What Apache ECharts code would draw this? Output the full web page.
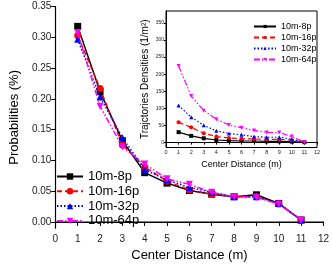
<!DOCTYPE html>
<html>
<head>
<meta charset="utf-8">
<script src="https://cdn.jsdelivr.net/npm/echarts@6/dist/echarts.min.js"></script>
<style>html,body{margin:0;padding:0;background:#fff}#c{width:332px;height:268px}</style>
</head>
<body>
<div id="c"></div>
<script>
const distances = [1, 2, 3, 4, 5, 6, 7, 8, 9, 10, 11];
const seriesNames = ['10m-8p', '10m-16p', '10m-32p', '10m-64p'];
// main chart: probabilities
const prob8p  = [0.318, 0.212, 0.132, 0.080, 0.063, 0.051, 0.045, 0.041, 0.044, 0.030, 0.003];
const prob16p = [0.303, 0.217, 0.125, 0.089, 0.066, 0.052, 0.045, 0.041, 0.041, 0.029, 0.003];
const prob32p = [0.297, 0.203, 0.137, 0.085, 0.068, 0.056, 0.048, 0.041, 0.041, 0.030, 0.003];
const prob64p = [0.308, 0.188, 0.122, 0.094, 0.070, 0.061, 0.048, 0.041, 0.040, 0.029, 0.003];
// inset: trajectory densities
const dens8p  = [30, 19, 12, 7, 5, 4, 4, 3, 3, 2, 0.5];
const dens16p = [59, 44, 27, 17, 13, 11, 10, 9, 9, 6, 1];
const dens32p = [108, 74, 50, 34, 26, 22, 17, 15, 15, 9, 1];
const dens64p = [224, 136, 93, 68, 51, 43, 35, 29, 29, 17, 1];
const probTicks = [0, 0.05, 0.10, 0.15, 0.20, 0.25, 0.30, 0.35];
const densTicks = [0, 50, 100, 150, 200, 250, 300, 350];

const colors = ['#000000', '#ff0000', '#0000ff', '#ff00ff'];
const symbols = ['rect', 'circle', 'triangle', 'path://M0,0 L10,0 L5,9 Z'];
const dashes = ['solid', [5, 3], [1.5, 2], [6, 2, 1.5, 2, 1.5, 2]];
const mainData = [prob8p, prob16p, prob32p, prob64p];
const insetData = [dens8p, dens16p, dens32p, dens64p];

const font = 'Liberation Sans, Arial, sans-serif';
const axisCol = '#555';

function pairs(vals) { return distances.map((d, i) => [d, vals[i]]); }

const series = [];
seriesNames.forEach((n, i) => {
  series.push({
    name: n, type: 'line', xAxisIndex: 0, yAxisIndex: 0,
    data: pairs(mainData[i]), symbol: symbols[i], symbolSize: 7,
    color: colors[i], lineStyle: {color: colors[i], width: 1.5, type: dashes[i]},
    itemStyle: {color: colors[i]}, z: 3 + i
  });
});
seriesNames.forEach((n, i) => {
  series.push({
    name: n, type: 'line', xAxisIndex: 2, yAxisIndex: 2,
    data: pairs(insetData[i]), symbol: symbols[i], symbolSize: 4,
    color: colors[i], lineStyle: {color: colors[i], width: 1.2, type: dashes[i]},
    itemStyle: {color: colors[i]}, z: 20 + i
  });
});

const chart = echarts.init(document.getElementById('c'));
chart.setOption({
  animation: false,
  backgroundColor: '#fff',
  textStyle: {fontFamily: font},
  grid: [
    {left: 51, right: 7, top: 6.7, bottom: 40, show: false},
    {left: 166, right: 15, top: 11, bottom: 120.5, show: true, backgroundColor: '#fff', borderColor: '#000', borderWidth: 1, z: 10}
  ],
  legend: [
    {
      data: seriesNames, orient: 'vertical', left: 56, top: 170, itemWidth: 26, itemHeight: 8, itemGap: 1.8,
      textStyle: {fontSize: 13, color: '#000', fontFamily: font, lineHeight: 13}, padding: 0
    },
    {
      data: seriesNames, orient: 'vertical', left: 253, top: 22, itemWidth: 22, itemHeight: 4, itemGap: 2,
      textStyle: {fontSize: 9, color: '#000', fontFamily: font, lineHeight: 9}, padding: 0, z: 30
    }
  ],
  xAxis: [
    {
      gridIndex: 0, type: 'value', min: 0, max: 12, interval: 1, position: 'bottom',
      name: 'Center Distance (m)', nameLocation: 'middle', nameGap: 17,
      nameTextStyle: {fontSize: 13, color: '#000', fontFamily: font},
      axisLine: {lineStyle: {color: axisCol, width: 1.5}},
      axisTick: {inside: false, length: 4, lineStyle: {color: '#000'}},
      axisLabel: {fontSize: 10, color: '#222', margin: 6},
      splitLine: {show: false}
    },
    {
      gridIndex: 0, type: 'value', min: 0, max: 12, interval: 1, position: 'top',
      axisLine: {lineStyle: {color: '#000', width: 1}},
      axisTick: {inside: true, length: 4, lineStyle: {color: '#000'}},
      axisLabel: {show: false}, splitLine: {show: false}
    },
    {
      gridIndex: 1, type: 'value', min: 0, max: 12, interval: 1, position: 'bottom',
      name: 'Center Distance (m)', nameLocation: 'middle', nameGap: 11,
      nameTextStyle: {fontSize: 9, color: '#000', fontFamily: font},
      axisLine: {lineStyle: {color: '#000', width: 1}},
      axisTick: {inside: false, length: 2, lineStyle: {color: '#000'}},
      axisLabel: {fontSize: 5.5, color: '#222', margin: 2},
      splitLine: {show: false}, z: 12
    },
    {
      gridIndex: 1, type: 'value', min: 0, max: 12, interval: 1, position: 'top',
      axisLine: {lineStyle: {color: '#000', width: 1}},
      axisTick: {inside: true, length: 2, lineStyle: {color: '#000'}},
      axisLabel: {show: false}, splitLine: {show: false}, z: 12
    }
  ],
  yAxis: [
    {
      gridIndex: 0, type: 'value', min: -0.01, max: 0.35, position: 'left',
      name: 'Probabilities (%)', nameLocation: 'middle', nameGap: 31,
      nameTextStyle: {fontSize: 13, color: '#000', fontFamily: font},
      axisLine: {show: true, lineStyle: {color: '#000', width: 1.2}},
      axisTick: {show: true, inside: false, length: 4, customValues: probTicks, lineStyle: {color: '#000'}},
      axisLabel: {fontSize: 10, color: '#222', margin: 4, customValues: probTicks, formatter: v => v.toFixed(2)},
      splitLine: {show: false}
    },
    {
      gridIndex: 0, type: 'value', min: -0.01, max: 0.35, position: 'right',
      axisLine: {show: true, lineStyle: {color: '#000', width: 1}},
      axisTick: {show: true, inside: true, length: 4, customValues: probTicks, lineStyle: {color: '#000'}},
      axisLabel: {show: false}, splitLine: {show: false}
    },
    {
      gridIndex: 1, type: 'value', min: -15, max: 385, position: 'left',
      name: 'Trajctories Densities (1/m\u00B2)', nameLocation: 'middle', nameGap: 16,
      nameTextStyle: {fontSize: 10, color: '#000', fontFamily: font},
      axisLine: {show: true, lineStyle: {color: '#000', width: 1}},
      axisTick: {show: true, inside: false, length: 2, customValues: densTicks, lineStyle: {color: '#000'}},
      axisLabel: {fontSize: 5, color: '#222', margin: 2, customValues: densTicks},
      splitLine: {show: false}, z: 12
    },
    {
      gridIndex: 1, type: 'value', min: -15, max: 385, position: 'right',
      axisLine: {show: true, lineStyle: {color: '#000', width: 1}},
      axisTick: {show: true, inside: true, length: 2, customValues: densTicks, lineStyle: {color: '#000'}},
      axisLabel: {show: false}, splitLine: {show: false}, z: 12
    }
  ],
  series: series
});
</script>
</body>
</html>
